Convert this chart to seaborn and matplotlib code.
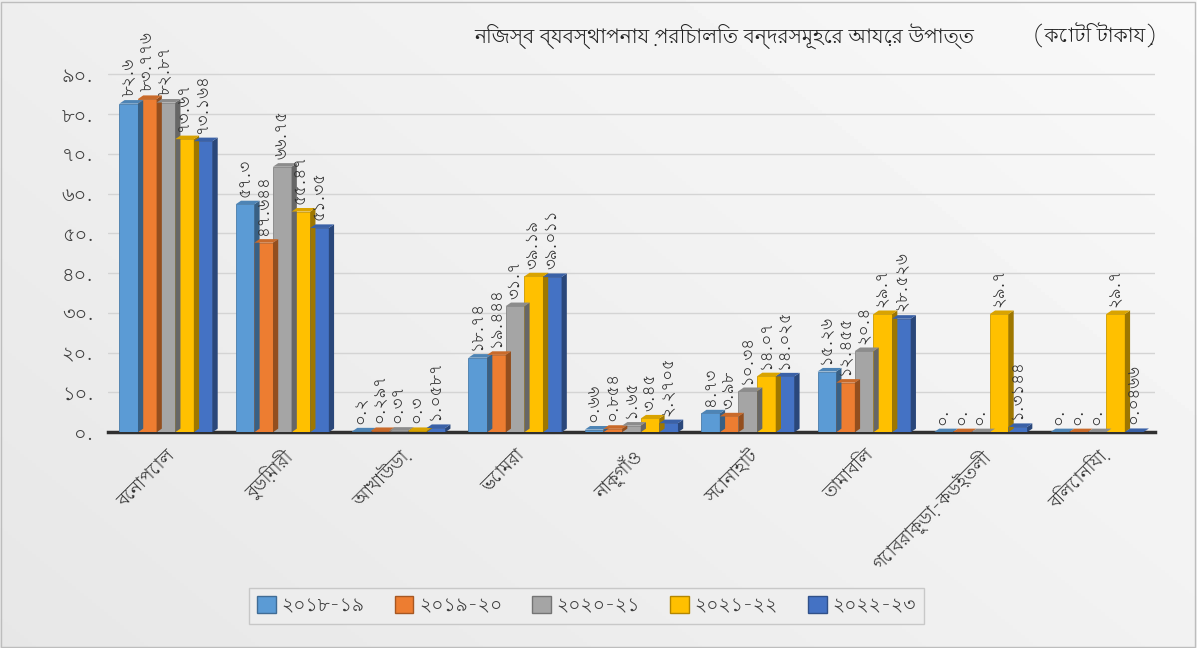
import matplotlib
matplotlib.use("Agg")
import matplotlib.pyplot as plt
from matplotlib import font_manager
from matplotlib.patches import Polygon, Rectangle
from matplotlib.colors import to_rgb
import numpy as np
import pandas as pd
import seaborn as sns

# ---- data (কোটি টাকা) ----
ports = ["বেনাপোল", "বুড়িমারী", "আখাউড়া", "ভোমরা", "নাকুগাঁও",
         "সোনাহাট", "তামাবিল", "গোবরাকুড়া-কড়ইতলী", "বিলোনিয়া"]
years = ["২০১৮-১৯", "২০১৯-২০", "২০২০-২১", "২০২১-২২", "২০২২-২৩"]
fy1819 = [82.6, 57.3, 0.2, 18.74, 0.66, 4.73, 15.26, 0, 0]
fy1920 = [83.776, 47.644, 0.297, 19.444, 0.854, 3.98, 12.455, 0, 0]
fy2021 = [82.87, 66.75, 0.37, 31.7, 1.65, 10.34, 20.4, 0, 0]
fy2122 = [73.67, 55.47, 0.3, 39.19, 3.45, 14.07, 29.7, 29.7, 29.7]
fy2223 = [73.164, 51.35, 1.0587, 39.011, 2.2705, 14.025, 28.526, 1.3144, 0.0466]
yticks = [0, 10, 20, 30, 40, 50, 60, 70, 80, 90]

title = "নিজস্ব ব্যবস্থাপনায় পরিচালিত বন্দরসমূহের আয়ের উপাত্ত"
unit = "(কোটি টাকায়)"
colors = ["#5B9BD5", "#ED7D31", "#A5A5A5", "#FFC000", "#4472C4"]

BN_DIGITS = str.maketrans("0123456789", "০১২৩৪৫৬৭৮৯")


def bn(num_text):
    return num_text.translate(BN_DIGITS)


def fmt_value(v):
    v = float(v)
    if v == 0:
        return bn("0.")
    return bn(repr(v))


def bengali_families():
    found = []
    try:
        from fontTools.ttLib import TTFont
    except ImportError:
        return found
    seen = set()
    for f in font_manager.fontManager.ttflist:
        if f.name in seen:
            continue
        seen.add(f.name)
        try:
            tt = TTFont(f.fname, fontNumber=0, lazy=True)
            cmap = tt.getBestCmap() or {}
            if 0x09AC in cmap and 0x09C7 in cmap and 0x09E6 in cmap:
                found.append(f.name)
        except Exception:
            pass
    found.sort(key=lambda n: (0 if "Bengali" in n else 1, n))
    return found


sns.set_theme(style="white")
families = bengali_families() + ["DejaVu Sans"]
plt.rcParams["font.family"] = families
plt.rcParams["axes.unicode_minus"] = False

df = pd.DataFrame({"port": ports, years[0]: fy1819, years[1]: fy1920,
                   years[2]: fy2021, years[3]: fy2122, years[4]: fy2223})
long_df = df.melt(id_vars="port", var_name="year", value_name="value")

fig = plt.figure(figsize=(11.97, 6.48), dpi=100)

# soft grey background
bg = fig.add_axes([0, 0, 1, 1], zorder=-10)
gx = np.linspace(0, 1, 300)
gy = np.linspace(0, 1, 200)
GX, GY = np.meshgrid(gx, gy)
shade = 0.905 + 0.07 * (0.6 * GX + 0.4 * (1 - GY))
bg.imshow(shade, cmap="gray", vmin=0, vmax=1, aspect="auto",
          extent=[0, 1, 0, 1], origin="upper")
bg.add_patch(Rectangle((0.001, 0.002), 0.997, 0.995, fill=False,
                       edgecolor="#bdbdbd", lw=1.0, transform=bg.transAxes))
bg.set_axis_off()

ax = fig.add_axes([0.09, 0.333, 0.875, 0.577])
ax.set_facecolor("none")

sns.barplot(data=long_df, x="port", y="value", hue="year", palette=colors,
            width=0.8, saturation=1, ax=ax, legend=False, zorder=3,
            edgecolor="none")


def shade_col(c, f):
    r, g, b = to_rgb(c)
    return (r * f, g * f, b * f)


dx = 0.045
dy = 0.9
for cont, col in zip(ax.containers, colors):
    for bar, val in zip(cont.patches, cont.datavalues):
        x0 = bar.get_x()
        w = bar.get_width()
        h = bar.get_height()
        x1 = x0 + w
        bar.set_edgecolor(shade_col(col, 0.8))
        bar.set_linewidth(0.6)
        # side face
        ax.add_patch(Polygon([(x1, 0), (x1 + dx, dy), (x1 + dx, h + dy), (x1, h)],
                             closed=True, facecolor=shade_col(col, 0.62),
                             edgecolor="none", zorder=3))
        # top face
        ax.add_patch(Polygon([(x0, h), (x0 + dx, h + dy), (x1 + dx, h + dy), (x1, h)],
                             closed=True, facecolor=shade_col(col, 0.85),
                             edgecolor="none", zorder=3))
        ax.text(x0 + w / 2, h + dy + 1.0, fmt_value(val), rotation=90,
                ha="center", va="bottom", fontsize=12, color="#333333",
                zorder=5, clip_on=False)

ax.set_ylim(0, 94)
ax.set_xlim(-0.5, len(ports) - 0.5)
ax.set_yticks(yticks)
ax.set_yticklabels([bn(f"{t}.") for t in yticks], fontsize=14, color="#404040")
ax.set_xticks(range(len(ports)))
ax.set_xticklabels(ports, rotation=45, ha="right", rotation_mode="anchor",
                   fontsize=13, color="#333333")
ax.tick_params(axis="both", length=0, pad=10)
ax.set_xlabel("")
ax.set_ylabel("")
ax.yaxis.grid(True, color="#d4d4d4", lw=1.0, zorder=0)
ax.set_axisbelow(True)
for s in ["top", "right", "left"]:
    ax.spines[s].set_visible(False)
ax.spines["bottom"].set_color("#303030")
ax.spines["bottom"].set_linewidth(2.5)

fig.text(0.605, 0.945, title, fontsize=14.5, ha="center", va="center",
         color="#222222")
fig.text(0.915, 0.945, unit, fontsize=14.5, ha="center", va="center",
         color="#222222")

handles = [Rectangle((0, 0), 1, 1, facecolor=c, edgecolor=shade_col(c, 0.7), lw=1)
           for c in colors]
leg = fig.legend(handles, years, loc="center", bbox_to_anchor=(0.49, 0.065),
                 ncol=5, fontsize=13.5, frameon=True, fancybox=False,
                 handlelength=1.0, handleheight=1.0, handletextpad=0.3,
                 columnspacing=1.6, borderpad=0.45)
leg.get_frame().set_edgecolor("#bfbfbf")
leg.get_frame().set_facecolor("#eeeeee")
leg.get_frame().set_linewidth(1.0)
for t in leg.get_texts():
    t.set_color("#404040")

fig.savefig("out.png", dpi=100)
